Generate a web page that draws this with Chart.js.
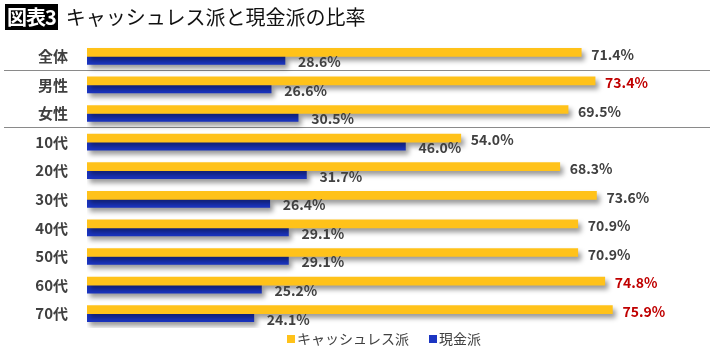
<!DOCTYPE html>
<html>
<head>
<meta charset="utf-8">
<script src="https://cdn.jsdelivr.net/npm/chart.js@4"></script>
<style>
  body { margin: 0; background: #fff; }
  #wrap { position: relative; width: 710px; height: 351px; }
  #title {
    position: absolute; left: 5px; top: 4px; height: 26px;
    font-family: "Noto Sans CJK JP", sans-serif; font-size: 20px; line-height: 26px;
    color: #111; white-space: nowrap;
  }
  #title .tag {
    display: inline-block; background: #000; color: #fff; font-weight: bold;
    padding: 0 2px; height: 26px; letter-spacing: -1px;
  }
  #title .txt { margin-left: 8px; }
  canvas { position: absolute; left: 0; top: 0; }
</style>
</head>
<body>
<div id="wrap">
  <canvas id="chart" width="710" height="351"></canvas>
  <div id="title"><span class="tag">図表3</span><span class="txt">キャッシュレス派と現金派の比率</span></div>
</div>
<script>
// data
const categories = ['全体', '男性', '女性', '10代', '20代', '30代', '40代', '50代', '60代', '70代'];
const cashless = [71.4, 73.4, 69.5, 54.0, 68.3, 73.6, 70.9, 70.9, 74.8, 75.9];
const cash = [28.6, 26.6, 30.5, 46.0, 31.7, 26.4, 29.1, 29.1, 25.2, 24.1];
const seriesNames = ['キャッシュレス派', '現金派'];
const redLabels = [1, 8, 9]; // cashless labels shown in red

const YELLOW = '#FFC21A';
const BLUE = '#1B35C2';
const TEXT = '#404040';
const FONT = '"Noto Sans CJK JP", "Noto Sans", sans-serif';

// shadow under bars
const shadowPlugin = {
    id: 'barShadow',
    beforeDatasetsDraw(chart) {
        const ctx = chart.ctx;
        ctx.save();
        ctx.shadowColor = 'rgba(0,0,0,0.4)';
        ctx.shadowBlur = 5;
        ctx.shadowOffsetX = 3;
        ctx.shadowOffsetY = 4;
    },
    afterDatasetsDraw(chart) {
        chart.ctx.restore();
    }
};

// separator lines between groups
const separatorPlugin = {
    id: 'separators',
    beforeDatasetsDraw(chart) {
        const ctx = chart.ctx;
        const y = chart.scales.y;
        ctx.save();
        ctx.strokeStyle = '#8a8a8a';
        ctx.lineWidth = 1;
        [0, 2].forEach(i => {
            const yy = Math.round((y.getPixelForValue(i) + y.getPixelForValue(i + 1)) / 2) - 0.5;
            ctx.beginPath();
            ctx.moveTo(4, yy);
            ctx.lineTo(710, yy);
            ctx.stroke();
        });
        ctx.restore();
    }
};

// value labels + bottom legend
const labelPlugin = {
    id: 'valueLabels',
    afterDraw(chart) {
        const ctx = chart.ctx;
        ctx.save();
        ctx.font = 'bold 14px ' + FONT;
        ctx.textAlign = 'left';
        ctx.textBaseline = 'middle';
        chart.data.datasets.forEach((ds, di) => {
            chart.getDatasetMeta(di).data.forEach((bar, i) => {
                ctx.fillStyle = (di === 0 && redLabels.includes(i)) ? '#C00000' : TEXT;
                const gap = di === 0 ? 10 : 13;
                const dy = di === 0 ? 2 : 1.5;
                ctx.fillText(ds.data[i].toFixed(1) + '%', bar.x + gap, bar.y + dy);
            });
        });

        // legend
        ctx.font = '14px ' + FONT;
        let x = 287;
        const ly = 339;
        chart.data.datasets.forEach((ds, di) => {
            ctx.fillStyle = ds.backgroundColor;
            ctx.fillRect(x, ly - 4, 8, 8);
            ctx.fillStyle = TEXT;
            ctx.fillText(ds.label, x + 10, ly);
            x += 10 + ctx.measureText(ds.label).width + 20;
        });
        ctx.restore();
    }
};

new Chart(document.getElementById('chart'), {
    type: 'bar',
    data: {
        labels: categories,
        datasets: [
            { label: seriesNames[0], data: cashless, backgroundColor: YELLOW, barThickness: 8 },
            { label: seriesNames[1], data: cash, backgroundColor: BLUE, barThickness: 8 }
        ]
    },
    options: {
        indexAxis: 'y',
        responsive: false,
        animation: false,
        devicePixelRatio: 1,
        layout: { padding: { top: 42, bottom: 23, left: 0, right: 0 } },
        scales: {
            x: { display: false, min: 0, max: 90 },
            y: {
                grid: { display: false },
                border: { display: false },
                ticks: {
                    padding: 11,
                    color: TEXT,
                    font: { family: FONT, size: 15, weight: 'bold' }
                },
                afterFit(scale) { scale.width = 87; }
            }
        },
        plugins: {
            legend: { display: false },
            tooltip: { enabled: false }
        }
    },
    plugins: [separatorPlugin, shadowPlugin, labelPlugin]
});
</script>
</body>
</html>
